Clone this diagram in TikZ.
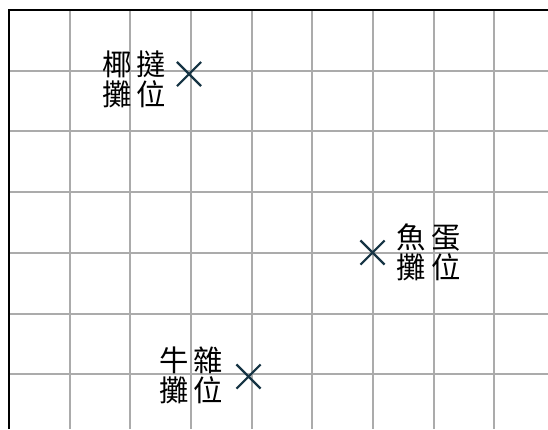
\documentclass[tikz,border=0pt]{standalone}
\usepackage{fontspec}
\newfontfamily\cjk{Noto Sans CJK TC}
\usetikzlibrary{positioning,shapes.misc}
\definecolor{crossblue}{RGB}{22,52,68}
\tikzset{
  gridline/.style={draw=black!33,line width=1.5pt},
  frameline/.style={draw=black,line width=2.2pt},
  stall/.style={cross out,draw=crossblue,line width=1.6pt,minimum size=16.5pt,inner sep=0pt},
  stalllabel/.style={font=\cjk\fontsize{22}{22.5}\selectfont,align=center,inner sep=0pt}
}
\begin{document}
\begin{tikzpicture}[x=0.75pt,y=-0.75pt]
\useasboundingbox (0,0) rectangle (548,429);
\fill[white] (0,0) rectangle (548,429);
\foreach \i in {1,...,8}
  \draw[gridline] ({9+60.65*\i},10) -- ({9+60.65*\i},429);
\foreach \j in {1,...,6}
  \draw[gridline] (9,{10+60.7*\j}) -- (548,{10+60.7*\j});
\draw[frameline] (9,429) -- (9,10) -- (548,10);
\node[stall] (tart) at (189,74) {};
\node[stall] (fishball) at (372.5,252.5) {};
\node[stall] (offal) at (248.5,376.5) {};
\node[stalllabel,left=8pt of tart,yshift=-4pt] (tartlabel) {椰\,撻\\攤\,位};
\node[stalllabel,right=9pt of fishball] (fishballlabel) {魚\,蛋\\攤\,位};
\node[stalllabel,left=10pt of offal,yshift=1pt] (offallabel) {牛\,雜\\攤\,位};
\end{tikzpicture}
\end{document}
